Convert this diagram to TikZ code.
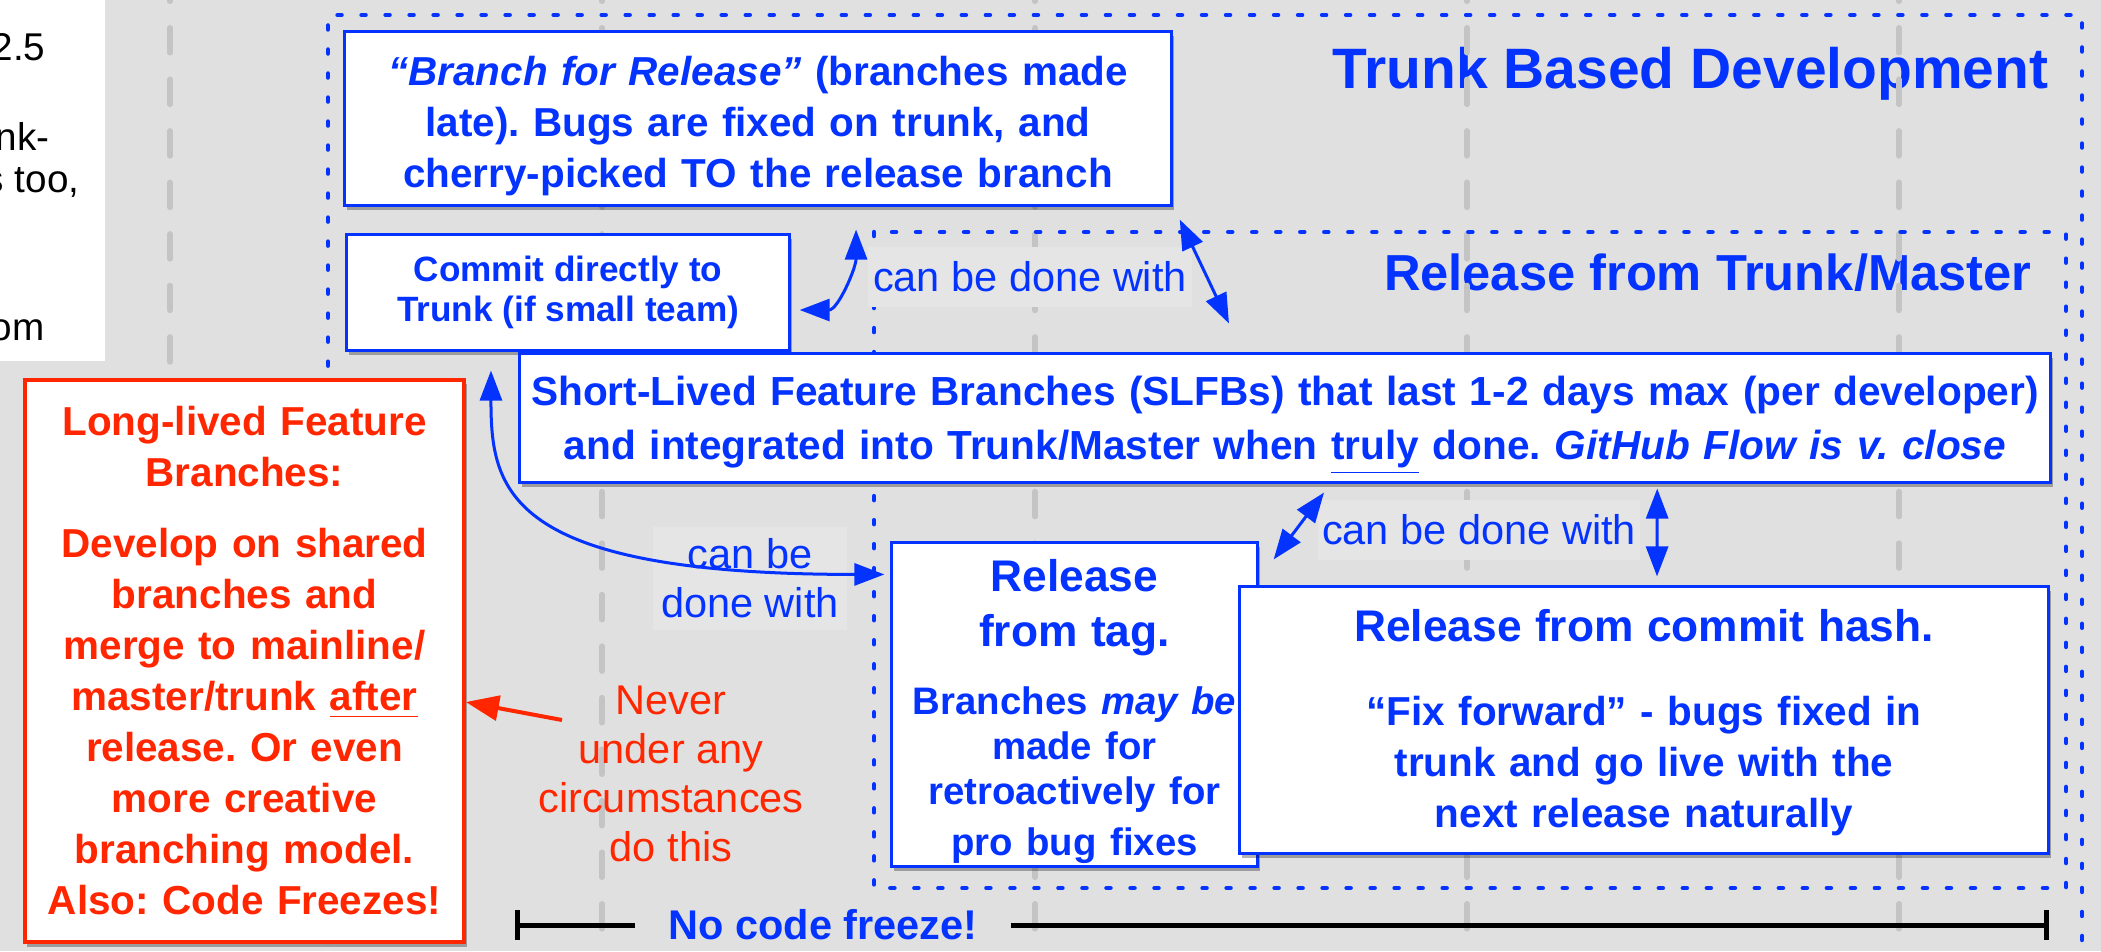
\documentclass[tikz,border=0pt]{standalone}
\usepackage{fontspec}
\setmainfont{Liberation Sans}
\usetikzlibrary{arrows.meta,calc,shadows}
\frenchspacing

\definecolor{tbdblue}{RGB}{4,51,255}
\definecolor{tbdred}{RGB}{255,38,0}
\definecolor{bggray}{RGB}{224,224,224}
\definecolor{lblgray}{RGB}{229,229,229}
\definecolor{gridgray}{RGB}{196,196,196}

\newcommand{\tbdbody}{\fontsize{11.5pt}{14.5pt}\selectfont}
\newcommand{\tbdlbl}{\fontsize{11.8pt}{14pt}\selectfont}
\newcommand{\tbdsmall}{\fontsize{10pt}{11.4pt}\selectfont}
\newcommand{\tbdhead}{\fontsize{12.6pt}{15.6pt}\selectfont}
\newcommand{\tbdtagbody}{\fontsize{10.9pt}{12.8pt}\selectfont}
\newcommand{\tbdcut}{\fontsize{11pt}{12pt}\selectfont}

\begin{document}
\begin{tikzpicture}[x=0.01cm,y=0.01cm,>={Triangle[length=0.3cm,width=0.22cm]}]
\tikzstyle{box} = [draw=tbdblue, line width=0.03cm, fill=white, text=tbdblue, font=\tbdbody\bfseries, align=center, inner sep=0pt, drop shadow={shadow xshift=0.025cm, shadow yshift=-0.045cm, opacity=0.3, fill=black}]
\tikzstyle{redbox} = [box, draw=tbdred, text=tbdred, line width=0.035cm]
\tikzstyle{lbl} = [fill=lblgray, text=tbdblue, font=\tbdlbl, align=center, inner xsep=0.04cm, inner ysep=0.06cm]
\tikzstyle{link} = [<->, draw=tbdblue, line width=0.03cm]
\tikzstyle{gridline} = [gridgray, line width=0.055cm, line cap=round, dash pattern=on 0.25cm off 0.265cm, dash phase=0.2375cm]
\tikzstyle{dotframe} = [tbdblue, line width=0.045cm, line cap=round, dash pattern=on 0.04cm off 0.2cm]
\tikzstyle{freezebar} = [line width=0.05cm]
\tikzstyle{title} = [anchor=base east, inner sep=0pt, text=tbdblue]
\useasboundingbox (0,0) rectangle (2101,-951);
\clip (0,0) rectangle (2101,-951);
\fill[bggray] (0,0) rectangle (2101,-951);
\fill[white] (0,0) rectangle (105,-361);

% text cut off by the left edge
\node[anchor=base east, inner sep=0pt, font=\tbdcut] (cutone) at (46,-60) {2.5};
\node[anchor=base east, inner sep=0pt, font=\tbdcut] (cuttwo) at (50,-150) {nk-};
\node[anchor=base east, inner sep=0pt, font=\tbdcut] (cutthree) at (80,-192) {s too,};
\node[anchor=base east, inner sep=0pt, font=\tbdcut] (cutfour) at (45,-340) {om};

\node[title, font=\fontsize{16.2pt}{19pt}\selectfont\bfseries] (tbdtitle) at (2049,-88) {Trunk Based Development};
\node[title, font=\fontsize{14.4pt}{17pt}\selectfont\bfseries] (rfttitle) at (2032,-290) {Release from Trunk/Master};

\foreach \gx in {170,602,1035,1467,1899}
  \draw[gridline] (\gx,0) -- (\gx,-951);

\draw[dotframe] (328,-990) -- (328,-15) -- (2082,-15) -- (2082,-990);
\draw[dotframe] (874,-232) rectangle (2066,-888);

% labels
\node[lbl, minimum width=3.24cm, minimum height=0.6cm] (canbetop) at (1030,-277) {can be done with};
\node[lbl, minimum height=0.6cm] (canbemid) at (1479,-530) {can be done with};
\node[lbl, minimum width=1.94cm, minimum height=1.03cm] (canbeleft) at (750,-578.5) {can be\\done with};
\node[text=tbdred, font=\tbdlbl, align=center, inner sep=0pt] (never) at (671,-774) {Never\\under any\\circumstances\\do this};

% boxes
\node[box, minimum width=8.26cm, minimum height=1.73cm, text width=8.26cm] (branch) at (758,-118.5) {\rule{0pt}{12.6pt}\textit{“Branch for Release”} (branches made\\late). Bugs are fixed on trunk, and\\cherry-picked TO the release branch};
\node[box, minimum width=4.42cm, minimum height=1.15cm, font=\tbdsmall\bfseries] (commit) at (568,-292.5) {Commit directly to\\Trunk (if small team)};
\node[box, minimum width=15.3cm, minimum height=1.28cm, text width=15.3cm, font=\fontsize{11.55pt}{15.3pt}\selectfont\bfseries] (slfb) at (1285,-418) {\rule{0pt}{12.6pt}Short-Lived Feature Branches (SLFBs) that last 1-2 days max (per developer)\\and integrated into Trunk/Master when \underline{truly} done. \textit{GitHub Flow is v. close}};
\node[box, minimum width=3.65cm, minimum height=3.23cm, text width=3.65cm] (tag) at (1074.5,-704.5) {\tbdhead\rule{0pt}{13.2pt}Release\\from tag.\\[0.23cm]\tbdtagbody Branches \textit{may be}\\made for\\retroactively for\\pro bug fixes};
\node[box, minimum width=8.08cm, minimum height=2.66cm, text width=8.08cm] (hash) at (1644,-720) {\tbdhead\rule{0pt}{10.6pt}Release from commit hash.\\[0.33cm]\tbdbody “Fix forward” - bugs fixed in\\trunk and go live with the\\next release naturally};
\node[redbox, minimum width=4.39cm, minimum height=5.62cm, text width=4.39cm] (longlived) at (244.5,-661) {Long-lived Feature\\Branches:\\[0.2cm]Develop on shared\\branches and\\merge to mainline/\\master/trunk \underline{after}\\release. Or even\\more creative\\branching model.\\Also: Code Freezes!};

% connectors
\draw[link] ([xshift=0.09cm, yshift=-0.175cm]commit.east) to[out=0, in=-90] ([xshift=0.98cm, yshift=-0.23cm]branch.south);
\draw[link] ([xshift=-0.77cm, yshift=-0.19cm]commit.south) .. controls +(0,-119) and +(-380,0) .. ([xshift=-0.06cm, yshift=-0.33cm]tag.north west);
\draw[link] ([xshift=0.07cm, yshift=-0.13cm]branch.south east) -- ([xshift=-0.56cm, yshift=0.29cm]slfb.north);
\draw[link] ([xshift=0.39cm, yshift=-0.09cm]slfb.south) -- ([xshift=0.15cm, yshift=-0.18cm]tag.north east);
\draw[link] ([xshift=3.72cm, yshift=-0.05cm]slfb.south) -- ([xshift=0.13cm, yshift=0.09cm]hash.north);

\coordinate (nevertail) at (562,-720);
\draw[->, tbdred, line width=0.04cm, >={Triangle[length=0.33cm,width=0.25cm]}] (nevertail) -- ([yshift=-0.41cm]longlived.east);

% no code freeze bar
\node[text=tbdblue, font=\fontsize{11.8pt}{14pt}\selectfont\bfseries, inner xsep=0.33cm, inner ysep=0pt] (nofreeze) at (823,-925) {No code freeze!};
\coordinate (freezestart) at (515,-925);
\coordinate (freezeend) at (2049,-925);
\draw[freezebar, {Bar[width=0.3cm]}-] (freezestart) -- (nofreeze);
\draw[freezebar, -{Bar[width=0.3cm]}] (nofreeze) -- (freezeend);
\end{tikzpicture}
\end{document}
